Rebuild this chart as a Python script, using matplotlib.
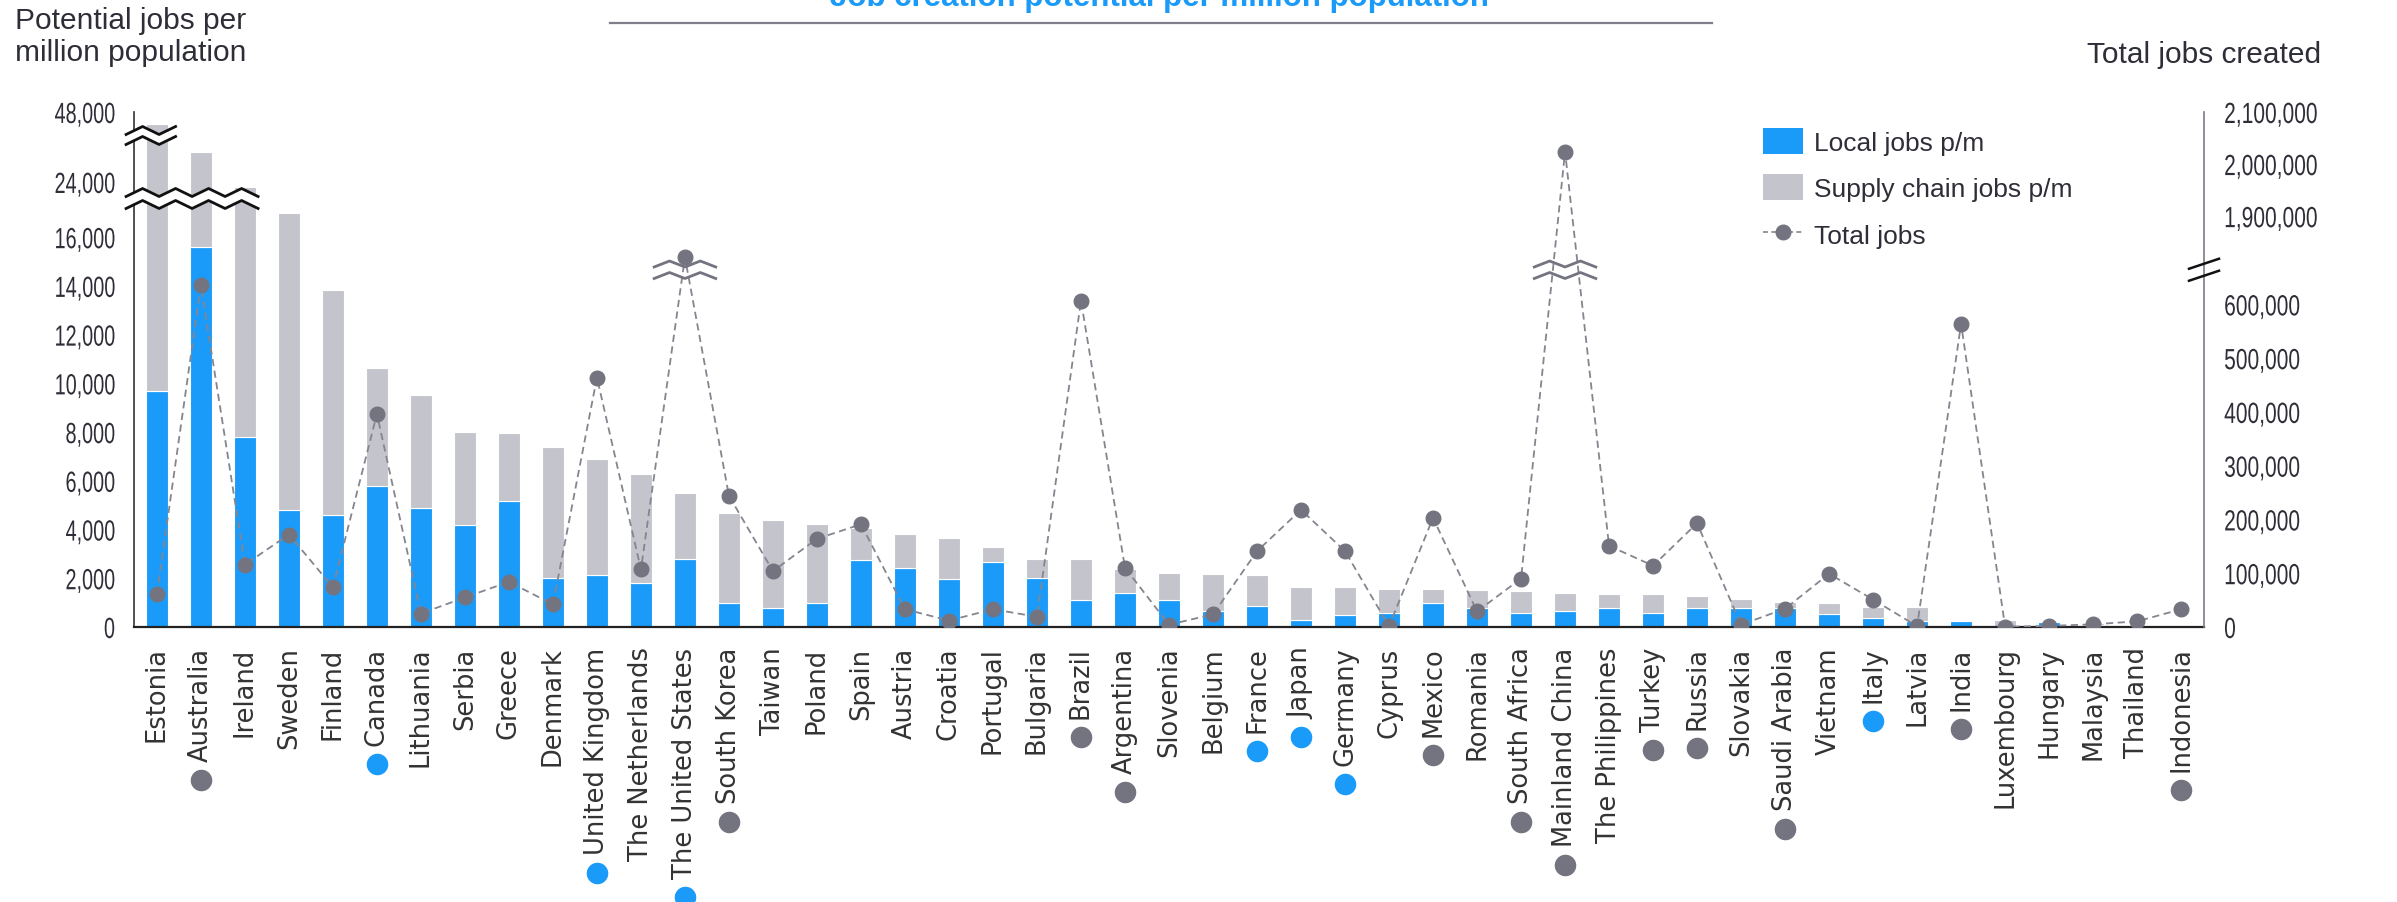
import matplotlib
matplotlib.use("Agg")
import matplotlib.pyplot as plt
import matplotlib.patheffects as pe
import matplotlib.transforms as mtransforms
import numpy as np
from matplotlib.lines import Line2D
from matplotlib.patches import Patch, Polygon
from matplotlib.ticker import FixedLocator, FuncFormatter

# ---- data ----
countries = ["Estonia", "Australia", "Ireland", "Sweden", "Finland", "Canada",
             "Lithuania", "Serbia", "Greece", "Denmark", "United Kingdom",
             "The Netherlands", "The United States", "South Korea", "Taiwan",
             "Poland", "Spain", "Austria", "Croatia", "Portugal", "Bulgaria",
             "Brazil", "Argentina", "Slovenia", "Belgium", "France", "Japan",
             "Germany", "Cyprus", "Mexico", "Romania", "South Africa",
             "Mainland China", "The Philippines", "Turkey", "Russia", "Slovakia",
             "Saudi Arabia", "Vietnam", "Italy", "Latvia", "India", "Luxembourg",
             "Hungary", "Malaysia", "Thailand", "Indonesia"]

local_pm = [9700, 15600, 7800, 4800, 4600, 5780, 4890, 4180, 5180, 2010, 2120,
            1820, 2810, 990, 780, 990, 2740, 2420, 1990, 2670, 2010, 1120, 1410,
            1120, 640, 860, 270, 480, 560, 1000, 780, 560, 640, 780, 580, 780,
            780, 780, 520, 370, 230, 260, 60, 190, 100, 60, 20]

# top of stacked bar = local + supply chain jobs per million
total_pm = [47500, 25250, 23800, 17000, 13850, 10650, 9530, 8020, 7950, 7370, 6910,
            6270, 5520, 4660, 4410, 4240, 4070, 3810, 3660, 3290, 2810, 2810, 2400,
            2230, 2160, 2120, 1640, 1640, 1570, 1570, 1530, 1490, 1400, 1340, 1340,
            1260, 1150, 1010, 990, 820, 810, 280, 290, 210, 180, 100, 30]
supply_pm = [t - l for t, l in zip(total_pm, local_pm)]

total_jobs = [60800, 636000, 116000, 172000, 74000, 396000, 25000, 55000, 84000,
              42000, 464000, 107000, 1821000, 244000, 104000, 164000, 191000,
              33000, 12000, 33000, 19000, 607000, 110000, 4300, 23500, 141000,
              218000, 141000, 1500, 203000, 29000, 90000, 2024000, 151000, 114000,
              193000, 4300, 34000, 99000, 51000, 1500, 564000, 500, 2000, 5000,
              10500, 33000]

g7 = ["Canada", "United Kingdom", "The United States", "France", "Japan",
      "Germany", "Italy"]
g20 = ["Australia", "South Korea", "Brazil", "Argentina", "Mexico", "South Africa",
       "Mainland China", "Turkey", "Russia", "Saudi Arabia", "India", "Indonesia"]

left_ticks = [0, 2000, 4000, 6000, 8000, 10000, 12000, 14000, 16000, 24000, 48000]
right_ticks = [0, 100000, 200000, 300000, 400000, 500000, 600000,
               1900000, 2000000, 2100000]

BLUE = "#1b9bf9"
GREY = "#c4c4cc"
DOT = "#747480"
TXT = "#2e2e38"

plt.rcParams['font.family'] = ['Liberation Sans', 'DejaVu Sans']


class Squeeze(pe.AbstractPathEffect):
    """Draw text narrower (condensed look), keeping one edge fixed."""

    def __init__(self, sx, anchor):
        super().__init__()
        self.sx, self.anchor = sx, anchor

    def draw_path(self, renderer, gc, tpath, affine, rgbFace=None):
        pts = affine.transform(tpath.vertices)
        if self.anchor == 'right':
            a = pts[:, 0].max()
        elif self.anchor == 'left':
            a = pts[:, 0].min()
        else:
            a = (pts[:, 0].min() + pts[:, 0].max()) / 2
        t = affine + mtransforms.Affine2D().translate(-a, 0).scale(self.sx, 1).translate(a, 0)
        renderer.draw_path(gc, tpath, t, rgbFace)


def broken(vals, pix):
    v = np.asarray(vals, float)
    p = np.asarray(pix, float)
    return (lambda x: np.interp(x, v, p), lambda y: np.interp(y, p, v))


# broken left axis: 0-17k, ~23.6k-25.6k, ~47.3k-48k
lv = [-1e5, 0, 17280, 23630, 25640, 47300, 48000, 1e6]
lp = [-2436, 0, 421, 436, 485, 498, 515, 515 + 952000 * 0.02436]
lfwd, linv = broken(lv, lp)
# broken right axis: 0-650k, 1.81M-2.1M
rv = [-1e7, 0, 650000, 1812000, 2100000, 1e8]
rp = [-5377, 0, 349.5, 365, 515, 515 + 97.9e6 * 0.000525]
rfwd, rinv = broken(rv, rp)

fig = plt.figure(figsize=(23.97, 9.03), dpi=100)
ax = fig.add_axes([134 / 2397, 1 - 628 / 903, 2070 / 2397, 515 / 903])
x = np.arange(len(countries))

ax.set_yscale('function', functions=(lfwd, linv))
ax.bar(x, local_pm, width=0.5, color=BLUE, edgecolor='white', linewidth=0.8, zorder=2)
ax.bar(x, supply_pm, bottom=local_pm, width=0.5, color=GREY, edgecolor='white',
       linewidth=0.8, zorder=2)
ax.set_xlim(-0.52, len(countries) - 0.48)
ax.set_ylim(0, 48000)
ax.yaxis.set_major_locator(FixedLocator(left_ticks))
ax.yaxis.set_major_formatter(FuncFormatter(lambda v, p: f"{v:,.0f}"))
ax.yaxis.set_minor_locator(FixedLocator([]))
ax.tick_params(axis='y', which='both', length=0, pad=13.5, labelsize=21, labelcolor=TXT)
for lab in ax.get_yticklabels():
    lab.set_path_effects([Squeeze(0.68, 'right')])
ax.set_xticks(x)
ax.set_xticklabels(countries, rotation=90, fontsize=18.5, color="#333333",
                   family='DejaVu Sans')
ax.tick_params(axis='x', length=0, pad=14)
for s in ['top', 'right']:
    ax.spines[s].set_visible(False)
ax.spines['left'].set_color('#333333')
ax.spines['left'].set_linewidth(1.2)
ax.spines['bottom'].set_color('#222222')
ax.spines['bottom'].set_linewidth(1.6)

# zigzag breaks on the left axis
bt = mtransforms.blended_transform_factory(ax.transData, ax.transAxes)


def zigzag(x0, x1, ypix, amp=4.0, period=0.75):
    xs = np.arange(x0, x1 + 1e-9, period / 2)
    ys = ypix + np.where(np.arange(len(xs)) % 2 == 0, -amp, amp)
    return xs, ys / 515.0


for lo, hi, xend in [(17280, 23630, 2.45), (25640, 47300, 0.5)]:
    p_lo, p_hi = lfwd(lo) + 1.5, lfwd(hi) - 1.5
    xa, ya = zigzag(-0.7, xend, p_lo)
    xb, yb = zigzag(-0.7, xend, p_hi)
    poly = Polygon(np.column_stack([np.r_[xa, xb[::-1]], np.r_[ya, yb[::-1]]]),
                   closed=True, facecolor='white', edgecolor='none',
                   transform=bt, zorder=3, clip_on=False)
    ax.add_patch(poly)
    for xs, ys in [(xa, ya), (xb, yb)]:
        ax.add_line(Line2D(xs, ys, color='#111111', lw=2.0, transform=bt,
                           zorder=4, clip_on=False))

# right axis: total jobs
ax2 = ax.twinx()
ax2.set_yscale('function', functions=(rfwd, rinv))
ax2.plot(x, total_jobs, color='#85858f', lw=1.3, ls=(0, (4, 2.5)), marker='o',
         ms=10.5, mfc=DOT, mec=DOT, zorder=3)
ax2.set_ylim(0, 2100000)
ax2.set_xlim(ax.get_xlim())
ax2.yaxis.set_major_locator(FixedLocator(right_ticks))
ax2.yaxis.set_major_formatter(FuncFormatter(lambda v, p: f"{v:,.0f}"))
ax2.yaxis.set_minor_locator(FixedLocator([]))
ax2.tick_params(axis='y', which='both', length=0, pad=14.5, labelsize=21, labelcolor=TXT)
for lab in ax2.get_yticklabels():
    lab.set_path_effects([Squeeze(0.72, 'left')])
for s in ['top', 'left', 'bottom']:
    ax2.spines[s].set_visible(False)
ax2.spines['right'].set_color('#7b7b85')
ax2.spines['right'].set_linewidth(1.2)

# breaks on the total jobs line where it crosses the gap
bt2 = mtransforms.blended_transform_factory(ax2.transData, ax2.transAxes)
gap_lo, gap_hi = rfwd(650000) + 2, rfwd(1812000) - 2
for i, v in enumerate(total_jobs):
    if v > 650000:
        for yp in (gap_lo, gap_hi):
            xs, ys = zigzag(i - 0.7, i + 0.7, yp, amp=3.0, period=0.7)
            ax2.add_line(Line2D(xs, ys, color=DOT, lw=2.0, transform=bt2, zorder=4))

# slanted break on the right spine
mid = (gap_lo + gap_hi) / 2
for off in (-6, 6):
    yy = np.array([mid + off - 5, mid + off + 5]) / 515.0
    ax2.add_line(Line2D([1 - 15 / 2070, 1 + 15 / 2070], yy, color='#111111', lw=1.8,
                        transform=ax2.transAxes, clip_on=False, zorder=5))

handles = [Patch(facecolor=BLUE, edgecolor='none'),
           Patch(facecolor=GREY, edgecolor='none'),
           Line2D([], [], color='#85858f', lw=1.2, ls=(0, (3, 2)), marker='o', ms=10.5,
                  mfc=DOT, mec=DOT)]
ax2.legend(handles, ["Local jobs p/m", "Supply chain jobs p/m", "Total jobs"],
           loc='upper left', bbox_to_anchor=(1763 / 2397, 1 - 129 / 903),
           bbox_transform=fig.transFigure, frameon=False, fontsize=19,
           borderpad=0, borderaxespad=0, handlelength=1.5, handleheight=1.13,
           handletextpad=0.45, labelspacing=0.74, labelcolor=TXT)

# titles
fig.text(15 / 2397, 1 - 37 / 903, "Potential jobs per\nmillion population", ha='left',
         va='center', fontsize=21.5, color=TXT, linespacing=1.2)
fig.text(2321 / 2397, 1 - 55 / 903, "Total jobs created", ha='right', va='center',
         fontsize=21.5, color=TXT)
fig.text(1160 / 2397, 1 - 6 / 903, "Job creation potential per million population",
         ha='center', va='baseline', fontsize=22.5, fontweight='bold', color=BLUE)
fig.add_artist(Line2D([610 / 2397, 1712 / 2397], [1 - 24 / 903] * 2, color='#7f7f89',
                      lw=1.6))

# group markers under the country names
fig.canvas.draw()
renderer = fig.canvas.get_renderer()
W, H = fig.bbox.width, fig.bbox.height
for lab, name in zip(ax.get_xticklabels(), countries):
    if name in g7 or name in g20:
        bb = lab.get_window_extent(renderer)
        cx = (bb.x0 + bb.x1) / 2
        cy = bb.y0 - 19
        fig.add_artist(Line2D([cx / W], [cy / H], transform=fig.transFigure, marker='o',
                              ms=14.5, ls='none', color=BLUE if name in g7 else DOT))

fig.savefig("out.png", dpi=100)
